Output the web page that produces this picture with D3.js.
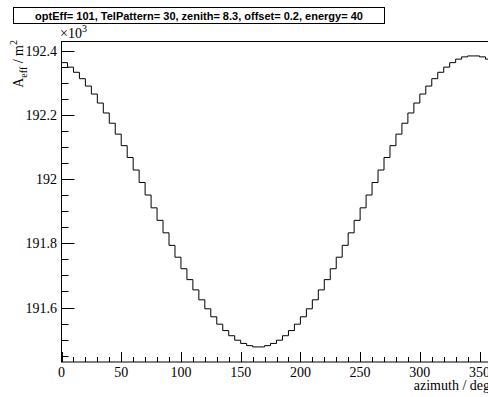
<!DOCTYPE html>
<html>
<head>
<meta charset="utf-8">
<script src="https://cdn.jsdelivr.net/npm/d3@7"></script>
<style>
  body { margin: 0; background: #fff; }
  svg { display: block; }
  .serif { font-family: "Liberation Serif", "DejaVu Serif", serif; }
  .sans { font-family: "Liberation Sans", "DejaVu Sans", sans-serif; }
</style>
</head>
<body>
<div id="chart"></div>
<script>
// histogram: 72 bins of 5 deg, values in units of 10^3 m^2
const binEdges = d3.range(0, 365, 5);
const aeff = [
  192.364, 192.350, 192.334, 192.314, 192.291, 192.266, 192.238, 192.207, 192.175, 192.141,
  192.105, 192.068, 192.029, 191.990, 191.951, 191.911, 191.872, 191.833, 191.794, 191.757,
  191.721, 191.687, 191.655, 191.624, 191.596, 191.571, 191.548, 191.528, 191.512, 191.498,
  191.488, 191.481, 191.477, 191.477, 191.481, 191.488, 191.498, 191.512, 191.528, 191.548,
  191.571, 191.596, 191.624, 191.655, 191.687, 191.721, 191.757, 191.794, 191.833, 191.872,
  191.911, 191.951, 191.990, 192.029, 192.068, 192.105, 192.141, 192.175, 192.207, 192.238,
  192.266, 192.291, 192.314, 192.334, 192.350, 192.364, 192.375, 192.382, 192.385, 192.385,
  192.382, 192.375
];
const xTicks = [0, 50, 100, 150, 200, 250, 300, 350];
const yTicks = [191.6, 191.8, 192, 192.2, 192.4];
const title = "optEff= 101, TelPattern= 30, zenith= 8.3, offset= 0.2, energy= 40";

const W = 488, H = 397;
const mLeft = 61.5, mTop = 41.5, mBottom = 362, mRight = 491.5;

const svg = d3.select("#chart").append("svg")
  .attr("width", W).attr("height", H);

const x = d3.scaleLinear().domain([0, 360]).range([mLeft, mRight]);
const y = d3.scaleLinear().domain([191.43, 192.43]).range([mBottom, mTop]);

// frame
svg.append("rect")
  .attr("x", mLeft).attr("y", mTop)
  .attr("width", mRight - mLeft).attr("height", mBottom - mTop)
  .attr("fill", "none").attr("stroke", "#000").attr("stroke-width", 1);

// x axis ticks
const xMinor = d3.range(0, 361, 10);
svg.append("g").selectAll("line")
  .data(xMinor)
  .enter().append("line")
  .attr("x1", d => Math.round(x(d)) + 0.5).attr("x2", d => Math.round(x(d)) + 0.5)
  .attr("y1", mBottom)
  .attr("y2", d => d % 50 === 0 ? mBottom - 10 : mBottom - 5)
  .attr("stroke", "#000");

svg.append("g").selectAll("text")
  .data(xTicks)
  .enter().append("text")
  .attr("class", "serif")
  .attr("x", d => x(d)).attr("y", 377)
  .attr("text-anchor", "middle")
  .attr("font-size", 14)
  .text(d => d);

// y axis ticks
const yMinor = d3.range(191.45, 192.43, 0.05);
svg.append("g").selectAll("line")
  .data(yMinor)
  .enter().append("line")
  .attr("x1", mLeft)
  .attr("x2", d => Math.abs(Math.round(d * 20) % 4) === 0 ? mLeft + 13 : mLeft + 7)
  .attr("y1", d => Math.round(y(d)) + 0.5).attr("y2", d => Math.round(y(d)) + 0.5)
  .attr("stroke", "#000");

svg.append("g").selectAll("text")
  .data(yTicks)
  .enter().append("text")
  .attr("class", "serif")
  .attr("x", 57).attr("y", d => y(d) + 5)
  .attr("text-anchor", "end")
  .attr("font-size", 14)
  .text(d => d3.format("~g")(d));

// exponent label
const ex = svg.append("text")
  .attr("class", "serif")
  .attr("x", 60).attr("y", 38)
  .attr("font-size", 14);
ex.append("tspan").text("\u00d710");
ex.append("tspan").attr("dy", -6).attr("font-size", 10).text("3");

// histogram step line
const pts = [];
aeff.forEach((v, i) => {
  pts.push([x(binEdges[i]), y(v)]);
  pts.push([x(binEdges[i + 1]), y(v)]);
});
svg.append("path")
  .attr("d", d3.line()(pts))
  .attr("fill", "none").attr("stroke", "#000").attr("stroke-width", 1);

// axis titles
svg.append("text")
  .attr("class", "serif")
  .attr("x", 490).attr("y", 390)
  .attr("text-anchor", "end")
  .attr("font-size", 14)
  .text("azimuth / deg");

const yt = svg.append("text")
  .attr("class", "serif")
  .attr("transform", "translate(23,40) rotate(-90)")
  .attr("text-anchor", "end")
  .attr("font-size", 14);
yt.append("tspan").text("A");
yt.append("tspan").attr("dy", 4).attr("font-size", 10).text("eff");
yt.append("tspan").attr("dy", -4).text(" / m");
yt.append("tspan").attr("dy", -6).attr("font-size", 10).text("2");

// title box
svg.append("rect")
  .attr("x", 13.5).attr("y", 7.5).attr("width", 371).attr("height", 16)
  .attr("fill", "#fff").attr("stroke", "#000");
svg.append("text")
  .attr("class", "sans")
  .attr("x", 199).attr("y", 20)
  .attr("text-anchor", "middle")
  .attr("font-weight", "bold").attr("font-size", 11)
  .text(title);
</script>
</body>
</html>
